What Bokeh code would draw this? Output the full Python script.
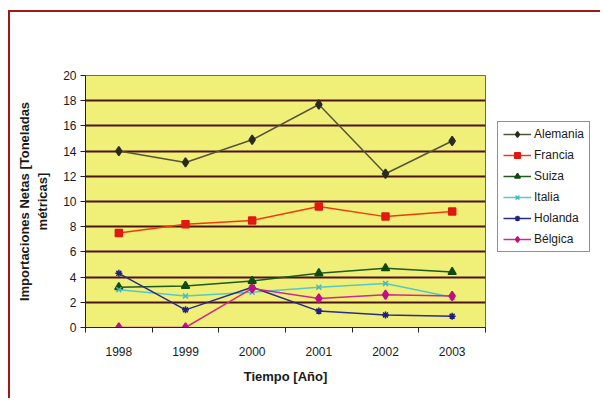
from bokeh.plotting import figure
from bokeh.layouts import row
from bokeh.models import Range1d, FixedTicker, Legend, LegendItem
from bokeh.embed import file_html
from bokeh.resources import INLINE

years = ["1998", "1999", "2000", "2001", "2002", "2003"]
alemania = [14.0, 13.1, 14.9, 17.7, 12.2, 14.8]
francia = [7.5, 8.2, 8.5, 9.6, 8.8, 9.2]
suiza = [3.2, 3.3, 3.7, 4.3, 4.7, 4.4]
italia = [3.0, 2.5, 2.8, 3.2, 3.5, 2.4]
holanda = [4.3, 1.4, 3.2, 1.3, 1.0, 0.9]
belgica = [0.0, 0.0, 3.1, 2.3, 2.6, 2.5]
y_ticks = list(range(0, 21, 2))

series = [
    ("Alemania", alemania, "#55553a", "#2a2a20", "diamond", 9),
    ("Francia", francia, "#f03a10", "#e01a10", "square", 7),
    ("Suiza", suiza, "#1f5a1f", "#0f4a0f", "triangle", 8),
    ("Italia", italia, "#55c8c8", "#40b8c8", "x", 7),
    ("Holanda", holanda, "#2a2a90", "#202080", "asterisk", 7),
    ("Bélgica", belgica, "#cc2a90", "#c01080", "diamond", 9),
]

xs = [i + 0.5 for i in range(len(years))]

H = 386
p = figure(width=477, height=H, output_backend="svg", toolbar_location=None,
           x_range=Range1d(0, len(years)), y_range=Range1d(0, 20),
           min_border_left=75, min_border_right=2, min_border_top=63, min_border_bottom=71)

p.background_fill_color = "#f0ef78"
p.border_fill_color = "white"
p.outline_line_color = "#6b6b50"
p.outline_line_width = 1

# axes
p.xaxis.ticker = FixedTicker(ticks=xs, minor_ticks=list(range(0, len(years) + 1)))
p.xaxis.major_label_overrides = {x: y for x, y in zip(xs, years)}
p.xaxis.major_tick_out = 0
p.xaxis.major_tick_in = 0
p.xaxis.minor_tick_out = 5
p.xaxis.minor_tick_in = 0
p.yaxis.ticker = FixedTicker(ticks=y_ticks)
p.yaxis.major_tick_out = 5
p.yaxis.major_tick_in = 0
for ax in (p.xaxis, p.yaxis):
    ax.axis_line_color = "#222222"
    ax.major_tick_line_color = "#222222"
    ax.minor_tick_line_color = "#222222"
    ax.major_label_text_font = "Liberation Sans"
    ax.major_label_text_font_size = "12px"
    ax.major_label_text_color = "#1a1a1a"
    ax.axis_label_text_font = "Liberation Sans"
    ax.axis_label_text_font_size = "13px"
    ax.axis_label_text_font_style = "bold"
    ax.axis_label_text_color = "#1a1a1a"
p.yaxis.minor_tick_line_color = None
p.xaxis.major_label_standoff = 14
p.yaxis.major_label_standoff = 4
p.xaxis.axis_label = "Tiempo [Año]"
p.yaxis.axis_label = "Importaciones Netas [Toneladas\nmétricas]"
p.xaxis.axis_label_standoff = 10
p.yaxis.axis_label_standoff = 10

p.xgrid.grid_line_color = None
p.ygrid.ticker = FixedTicker(ticks=y_ticks)
p.ygrid.grid_line_color = "#4a1414"
p.ygrid.grid_line_width = 2

# legend lives in a small companion figure to the right of the plot area
q = figure(width=113, height=H, output_backend="svg", toolbar_location=None,
           x_range=Range1d(0, 1), y_range=Range1d(0, 1),
           min_border_left=0, min_border_right=0, min_border_top=0, min_border_bottom=0)
q.axis.visible = False
q.grid.grid_line_color = None
q.outline_line_color = None
q.background_fill_color = "white"
q.border_fill_color = "white"

items = []
for name, vals, lc, mc, marker, size in series:
    p.line(xs, vals, line_color=lc, line_width=1.5)
    p.scatter(xs, vals, marker=marker, size=size, fill_color=mc, line_color=mc, line_width=1.5)
    r1 = q.line(xs, vals, line_color=lc, line_width=1.5, visible=False)
    r2 = q.scatter(xs, vals, marker=marker, size=size - 1, fill_color=mc, line_color=mc,
                   line_width=1.5, visible=False)
    items.append(LegendItem(label=name, renderers=[r1, r2]))

legend = Legend(items=items, location=(10, 75))
legend.label_text_font = "Liberation Sans"
legend.label_text_font_size = "12px"
legend.label_text_color = "#1a1a1a"
legend.border_line_color = "#222222"
legend.border_line_width = 1
legend.background_fill_color = "white"
legend.glyph_width = 28
legend.glyph_height = 14
legend.spacing = 7
legend.padding = 5
legend.margin = 0
legend.label_standoff = 3
legend.label_height = 14
q.add_layout(legend, "center")

layout = row(p, q)
layout.styles = {"border-top": "2px solid #a01818", "border-left": "2px solid #a01818",
                 "margin-left": "8px", "margin-top": "10px"}

open("out.html", "w").write(file_html(layout, INLINE))
